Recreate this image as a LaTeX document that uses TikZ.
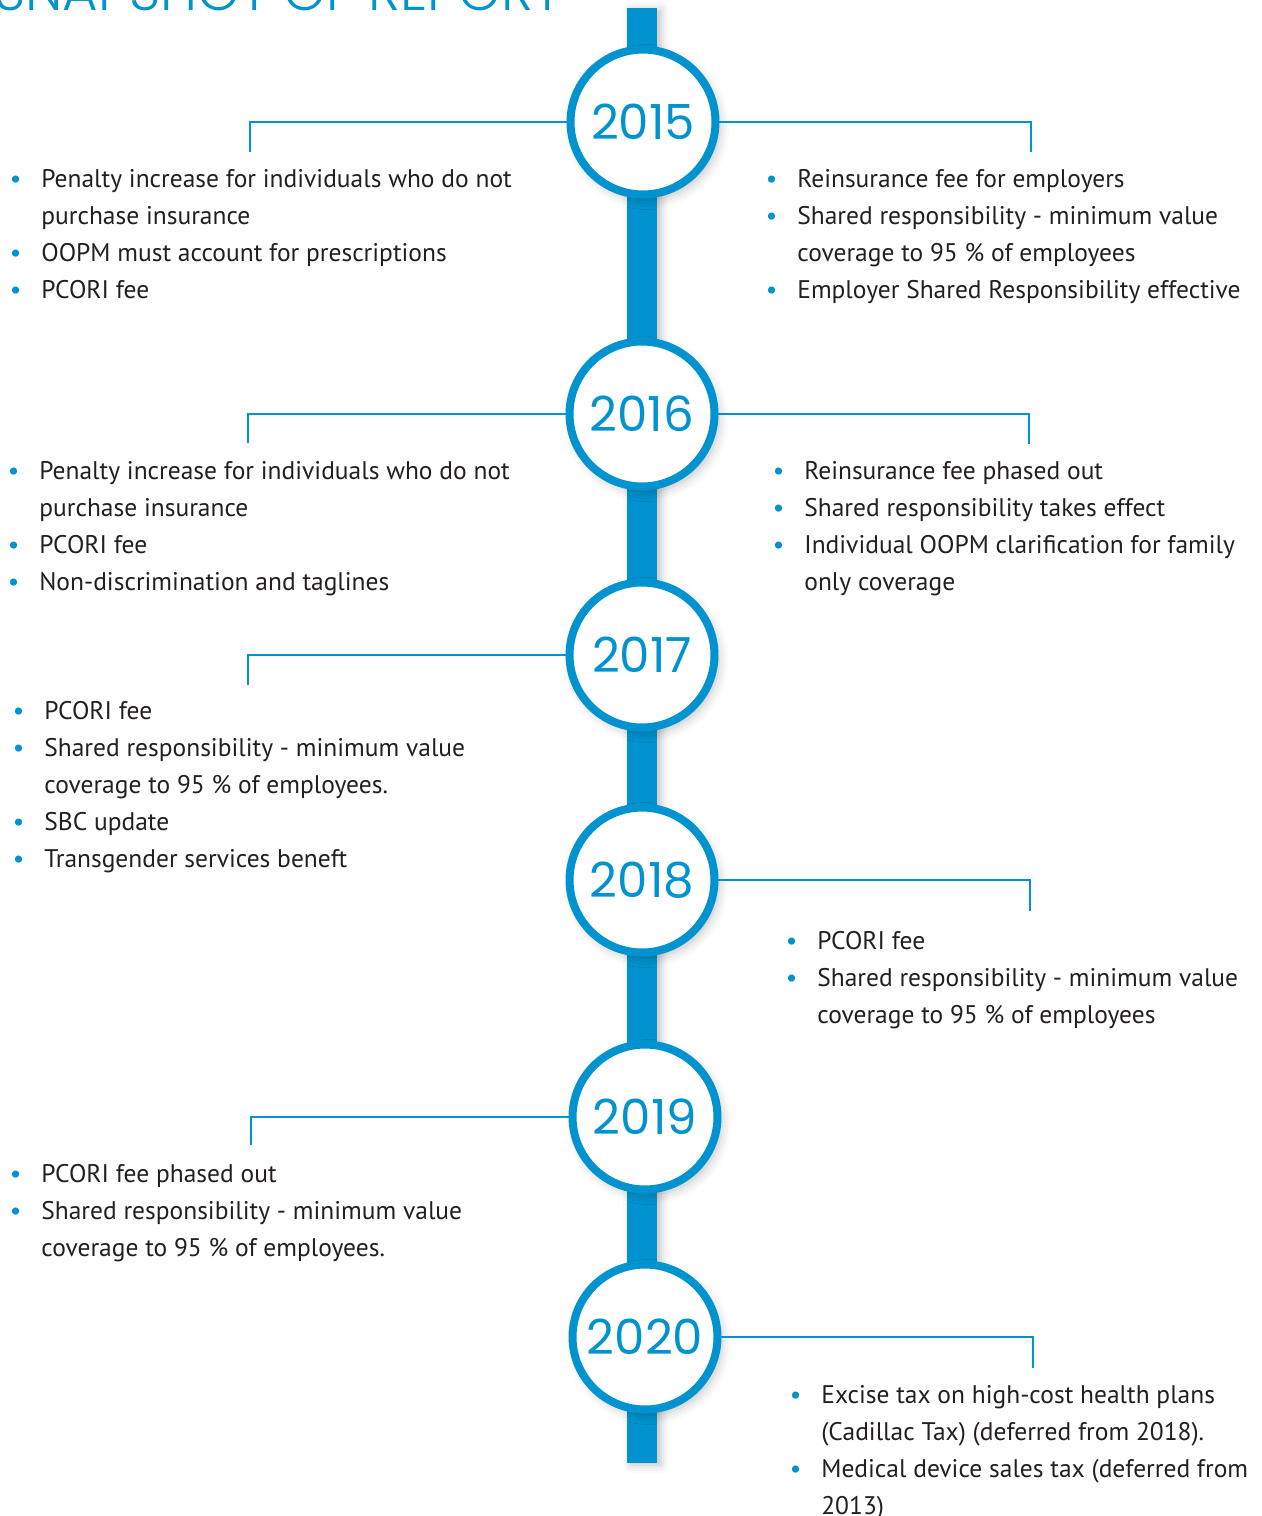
\documentclass[tikz,border=0pt]{standalone}
\usepackage{fontspec}
\setmainfont{PT Sans}
\newfontfamily\yearfont{Poppins}
\newfontfamily\titlefont{Poppins Light}
\usetikzlibrary{shadows.blur}
\definecolor{tlBlue}{HTML}{0093CF}
\definecolor{tlInk}{HTML}{231F20}
\newcommand\itm{\llap{\textcolor{tlBlue}{\textbullet}\hspace{0.4cm}}}

\begin{document}
\begin{tikzpicture}[x=0.02cm,y=-0.02cm,
  spine/.style={fill=tlBlue,blur shadow={shadow xshift=0.08cm,shadow yshift=-0.04cm,
               shadow blur radius=0.16cm,shadow opacity=25}},
  yearring/.style={circle,draw=tlBlue,line width=0.16cm,fill=white,minimum size=2.9cm,
               inner sep=0pt,text=tlBlue,font=\yearfont\fontsize{27.5}{27.5}\selectfont,
               blur shadow={shadow xshift=0.08cm,shadow yshift=-0.1cm,
               shadow blur radius=0.2cm,shadow opacity=25}},
  leader/.style={draw=tlBlue,line width=0.04cm},
  % lists hang from the baseline of their last line
  items/.style={anchor=base west,align=left,inner sep=0pt,text=tlInk,
               font=\fontsize{14.5}{21}\selectfont}]
\useasboundingbox (0,0) rectangle (1262,1516);
\node[anchor=base west,inner sep=0pt,text=tlBlue,font=\titlefont\fontsize{31}{31}\selectfont]
  (title) at (-6,10) {SNAPSHOT OF REPORT};
% spine with the year rings on top
\fill[spine] (627,8) rectangle (657,1463);
\foreach \yr/\cx/\cy in {2015/643/122,2016/642/414,2017/642/655,
                         2018/642/880,2019/645/1117,2020/645/1337}
  {\node[yearring] (y\yr) at (\cx,\cy) {\yr};}
% hooks to the left lists
\foreach \yr/\hx/\hy in {2015/250/152,2016/248/443,2017/248/685,2019/251/1145}{
  \coordinate (hl\yr) at (\hx,\hy);
  \draw[leader] (y\yr.west) -| (hl\yr);}
% hooks to the right lists
\foreach \yr/\hx/\hy in {2015/1031/152,2016/1029/444,2018/1030/911,2020/1033/1368}{
  \coordinate (hr\yr) at (\hx,\hy);
  \draw[leader] (y\yr.east) -| (hr\yr);}
% lists
\node[items] (l2015) at (41,298) {\itm Penalty increase for individuals who do not\\
  purchase insurance\\ \itm OOPM must account for prescriptions\\ \itm PCORI fee};
\node[items] (r2015) at (797,298) {\itm Reinsurance fee for employers\\
  \itm Shared responsibility - minimum value\\ coverage to 95 \% of employees\\
  \itm Employer Shared Responsibility effective};
\node[items] (l2016) at (39,590) {\itm Penalty increase for individuals who do not\\
  purchase insurance\\ \itm PCORI fee\\ \itm Non-discrimination and taglines};
\node[items] (r2016) at (804,590) {\itm Reinsurance fee phased out\\
  \itm Shared responsibility takes effect\\
  \itm Individual OOPM clarification for family\\ only coverage};
\node[items] (l2017) at (44,867) {\itm PCORI fee\\
  \itm Shared responsibility - minimum value\\ coverage to 95 \% of employees.\\
  \itm SBC update\\ \itm Transgender services beneft};
\node[items] (r2018) at (817,1023) {\itm PCORI fee\\
  \itm Shared responsibility - minimum value\\ coverage to 95 \% of employees};
\node[items] (l2019) at (41,1256) {\itm PCORI fee phased out\\
  \itm Shared responsibility - minimum value\\ coverage to 95 \% of employees.};
\node[items] (r2020) at (821,1514) {\itm Excise tax on high-cost health plans\\
  (Cadillac Tax) (deferred from 2018).\\
  \itm Medical device sales tax (deferred from\\ 2013)};
\end{tikzpicture}
\end{document}
